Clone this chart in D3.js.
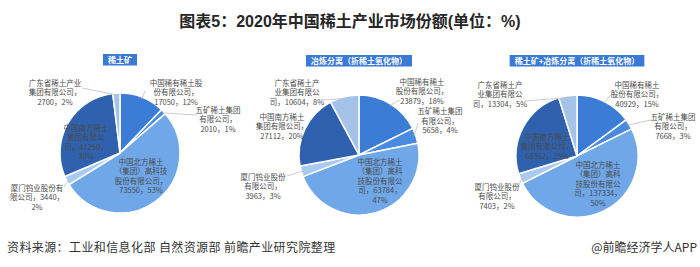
<!DOCTYPE html>
<html><head><meta charset="utf-8">
<script src="https://cdn.jsdelivr.net/npm/d3@7/dist/d3.min.js"></script>
<style>
html,body{margin:0;padding:0;background:#fff;}
text{font-family:"Noto Sans CJK SC","Noto Sans",sans-serif;}
</style></head>
<body><svg id="c" width="700" height="267"></svg>
<script>
// ---- data ----
const companies = ["中国稀有稀土股份有限公司","五矿稀土集团有限公司","中国北方稀土（集团）高科技股份有限公司","厦门钨业股份有限公司","中国南方稀土集团有限公司","广东省稀土产业集团有限公司"];
const chartTitles = ["稀土矿","冶炼分离（折稀土氧化物）","稀土矿+冶炼分离（折稀土氧化物）"];
const mineValues = [17050, 2010, 73550, 3440, 41250, 2700];
const minePct = [12, 1, 53, 2, 30, 2];
const smeltValues = [23879, 5658, 63784, 3963, 27112, 10604];
const smeltPct = [18, 4, 47, 3, 20, 8];
const totalValues = [40929, 7668, 137334, 7403, 68362, 13304];
const totalPct = [15, 3, 50, 2, 25, 5];
const mainTitle = "图表5：2020年中国稀土产业市场份额(单位：%)";
const sourceText = "资料来源：工业和信息化部 自然资源部 前瞻产业研究院整理";
const brandText = "@前瞻经济学人APP";

// ---- layout / style ----
const colors = ["#3a7cd6","#4a8be0","#6fa7e9","#a9caf1","#2f61ae","#a5c3e8"];
const charts = [
  {cx:120, cy:153, r:60, boxY:54, values:mineValues, pct:minePct,
   labels:[
    {x:176,y:83,wrap:[7,6]},
    {x:218,y:110,wrap:[6,5]},
    {x:141,y:162,wrap:[6,7,7]},
    {x:37,y:188,wrap:[7,9]},
    {x:86,y:128,wrap:[6,5,8]},
    {x:55,y:83,wrap:[7,7]}],
   lines:[[145,91],[196,115],null,[64,187],null,[82,88]]},
  {cx:359, cy:155, r:60, boxY:55, values:smeltValues, pct:smeltPct,
   labels:[
    {x:422,y:82,wrap:[6,7]},
    {x:440,y:111.5,wrap:[6,5]},
    {x:380,y:162,wrap:[6,6,6,8]},
    {x:263,y:177,wrap:[6,5]},
    {x:282,y:117,wrap:[6,7]},
    {x:297,y:83,wrap:[6,6]}],
   lines:[[400,100],[418,123],null,[287,176],null,[322,100]]},
  {cx:577, cy:156, r:61, boxY:55, values:totalValues, pct:totalPct,
   labels:[
    {x:637,y:85,wrap:[6,7]},
    {x:673,y:117,wrap:[6,5]},
    {x:598,y:165,wrap:[6,6,6,9]},
    {x:497,y:187,wrap:[6,5]},
    {x:547,y:137,wrap:[6,7]},
    {x:500,y:85,wrap:[6,6]}],
   lines:[[612,94],[651,120],null,[518,187],null,[525,101]]}
];

const svg = d3.select("#c");

svg.append("text").attr("x",350).attr("y",27).attr("text-anchor","middle")
  .attr("font-size",16).attr("font-weight","bold").attr("fill","#262626")
  .style("font-family","'Liberation Sans','Noto Sans CJK SC',sans-serif")
  .text(mainTitle);

function wrapText(str, counts){
  const out=[]; let i=0;
  const chars=Array.from(str);
  counts.forEach(n=>{ out.push(chars.slice(i,i+n).join("")); i+=n; });
  if(i<chars.length) out.push(chars.slice(i).join(""));
  return out;
}

const pie = d3.pie().sort(null).value(d=>d);

charts.forEach((c,ci)=>{
  const g = svg.append("g").attr("transform",`translate(${c.cx},${c.cy})`);
  const arc = d3.arc().innerRadius(0).outerRadius(c.r);
  const arcs = pie(c.values);
  g.selectAll("path").data(arcs).join("path")
    .attr("d",arc).attr("fill",(d,i)=>colors[i])
    .attr("stroke","#fff").attr("stroke-width",1.5).attr("stroke-linejoin","round");

  // leader lines
  const edge = d3.arc().innerRadius(c.r*0.97).outerRadius(c.r*0.97);
  arcs.forEach((a,i)=>{
    const L=c.lines[i]; if(!L) return;
    const p=edge.centroid(a);
    svg.append("line").attr("x1",L[0]).attr("y1",L[1])
      .attr("x2",c.cx+p[0]).attr("y2",c.cy+p[1])
      .attr("stroke","#bfbfbf").attr("stroke-width",0.8);
  });

  // labels
  arcs.forEach((a,i)=>{
    const lb=c.labels[i];
    const str = companies[i]+"，"+c.values[i]+"，"+c.pct[i]+"%";
    const lines = wrapText(str, lb.wrap);
    const t = svg.append("text").attr("text-anchor","middle")
      .attr("font-size",7.5).attr("fill","#4a4a4a");
    lines.forEach((ln,k)=>{
      t.append("tspan").attr("x",lb.x).attr("y",lb.y+2.7+k*9.5).text(ln);
    });
  });

  // title box
  const tt = svg.append("text").attr("x",c.cx).attr("y",c.boxY+8.5)
    .attr("text-anchor","middle").attr("font-size",8).attr("font-weight","bold")
    .attr("fill","#fff").text(chartTitles[ci]);
  const w = tt.node().getComputedTextLength();
  svg.insert("rect", () => tt.node())
    .attr("x",c.cx-w/2-5).attr("y",c.boxY).attr("width",w+10).attr("height",11.5)
    .attr("fill","#3b79d6");
});

svg.append("text").attr("x",7).attr("y",252).attr("font-size",12)
  .attr("fill","#333").attr("letter-spacing",0.4).text(sourceText);
svg.append("text").attr("x",697).attr("y",252).attr("text-anchor","end").attr("font-size",12)
  .attr("fill","#333").text(brandText);
</script></body></html>
